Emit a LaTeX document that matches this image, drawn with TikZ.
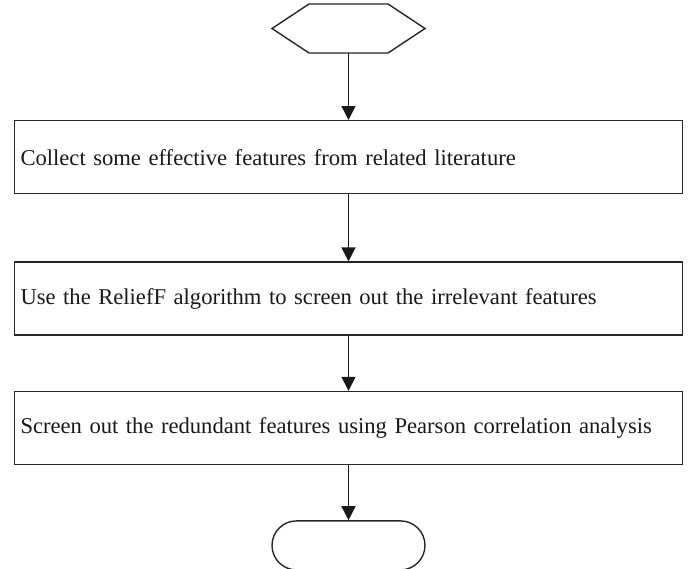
\documentclass[tikz,border=0pt]{standalone}
\usepackage{fontspec}
\setmainfont{Liberation Serif}
\usepackage{tikz}
\usetikzlibrary{arrows.meta,positioning}

\begin{document}
\begin{tikzpicture}[
    x=1pt, y=-1pt,
    font=\fontsize{22.6}{27}\selectfont,
    node distance=67pt,
    step box/.style={draw=black!85, line width=1.4pt, align=left, text width=656pt, inner xsep=6pt, inner ysep=0pt, minimum height=73pt, text=black!90},
    terminal/.style={draw=black!85, line width=1.4pt, rounded corners=24.5pt, minimum width=153pt, minimum height=49pt, inner sep=0pt},
    arrow/.style={-{Triangle[length=14pt, width=14pt]}, line width=1.4pt, draw=black!90}
  ]
    \useasboundingbox (0,0) rectangle (691,568);
    \node[minimum width=153pt, minimum height=49pt, inner sep=0pt, outer sep=0pt] (start) at (348.5,28.5) {};
    \node[step box, below=of start] (collect) {Collect some effective features from related literature};
    \node[step box, below=of collect] (relief) {Use the ReliefF algorithm to screen out the irrelevant features};
    \node[step box, below=55pt of relief] (pearson) {Screen out the redundant features using Pearson correlation analysis};
    \node[terminal, below=55pt of pearson] (stop) {};

    % hexagon for the start node
    \draw[draw=black!85, line width=1.4pt] (start.west) -- ([xshift=37pt]start.north west) -- ([xshift=-37pt]start.north east)
      -- (start.east) -- ([xshift=-37pt]start.south east) -- ([xshift=37pt]start.south west) -- cycle;

    \draw[arrow] (start) -- (collect);
    \draw[arrow] (collect) -- (relief);
    \draw[arrow] (relief) -- (pearson);
    \draw[arrow] (pearson) -- (stop);
  \end{tikzpicture}
\end{document}
